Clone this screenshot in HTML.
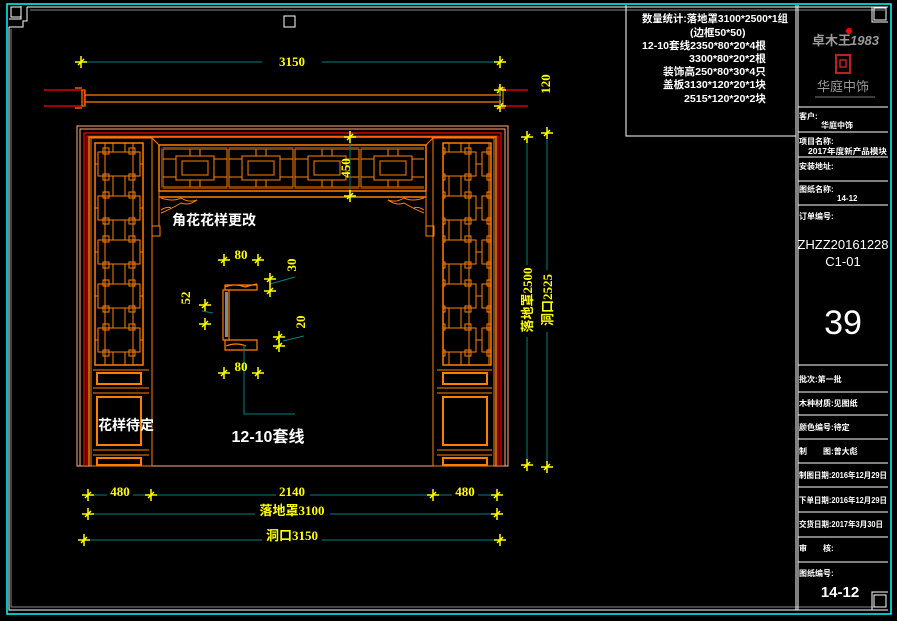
<!DOCTYPE html>
<html><head><meta charset="utf-8"><style>
html,body{margin:0;padding:0;background:#000;}
svg{display:block}
text{font-family:"Liberation Sans","Noto Sans CJK SC",sans-serif;}
.w{fill:#fff;font-weight:bold;font-size:10.5px}
.t{fill:#fff;font-weight:bold;font-size:8px}
.y{fill:#ff0;font-family:"Liberation Serif","Noto Sans CJK SC",serif;font-weight:bold;font-size:13px}
</style></head><body>
<svg width="897" height="621" viewBox="0 0 897 621" xmlns="http://www.w3.org/2000/svg">
<defs>
<g id="tk"><line x1="-6" y1="0" x2="6" y2="0" stroke="#ff0" stroke-width="1.5"/><line x1="0" y1="-6" x2="0" y2="6" stroke="#ff0" stroke-width="1.5"/><line x1="-3" y1="3" x2="3" y2="-3" stroke="#ff0" stroke-width="1.5"/></g>
<pattern id="side" x="95" y="142" width="48" height="44" patternUnits="userSpaceOnUse">
<g fill="none" stroke="#ff7f00" stroke-width="1">
<line x1="10" y1="0" x2="10" y2="44"/><line x1="38" y1="0" x2="38" y2="44"/>
<line x1="18" y1="0" x2="18" y2="10"/><line x1="30" y1="0" x2="30" y2="10"/>
<line x1="18" y1="34" x2="18" y2="44"/><line x1="30" y1="34" x2="30" y2="44"/>
<rect x="3" y="10" width="42" height="24"/><rect x="8" y="6" width="6" height="6"/><rect x="34" y="6" width="6" height="6"/>
<rect x="8" y="32" width="6" height="6"/><rect x="34" y="32" width="6" height="6"/>
<line x1="0" y1="22" x2="3" y2="22"/><line x1="45" y1="22" x2="48" y2="22"/>
</g></pattern>
<pattern id="beam" x="162" y="148" width="66" height="40" patternUnits="userSpaceOnUse">
<g fill="none" stroke="#ff7f00" stroke-width="1">
<rect x="1" y="1" width="64" height="38"/><rect x="14" y="8" width="38" height="24"/>
<rect x="20" y="13" width="26" height="14"/>
<line x1="1" y1="11" x2="14" y2="11"/><line x1="1" y1="29" x2="14" y2="29"/>
<line x1="52" y1="11" x2="65" y2="11"/><line x1="52" y1="29" x2="65" y2="29"/>
<line x1="28" y1="1" x2="28" y2="8"/><line x1="38" y1="1" x2="38" y2="8"/>
<line x1="28" y1="32" x2="28" y2="39"/><line x1="38" y1="32" x2="38" y2="39"/>
</g></pattern>
</defs>
<rect width="897" height="621" fill="#000"/>
<rect x="7" y="4" width="884" height="610" fill="none" stroke="#0ff" stroke-width="1.5"/>
<path d="M27 7 H888 M9 27 V610 H888" fill="none" stroke="#fff" stroke-width="1"/>
<path d="M30 10 H885 M11 29 V607 H885" fill="none" stroke="#888" stroke-width="1"/>
<rect x="11" y="7" width="10" height="10" fill="none" stroke="#fff"/>
<path d="M9 19 H21 V6 M9 27 H23 V21 H27 V7" fill="none" stroke="#fff"/>
<rect x="874" y="8" width="12" height="12" fill="none" stroke="#fff"/>
<path d="M888 22 H872 V7" fill="none" stroke="#fff"/>
<rect x="874" y="595" width="12" height="12" fill="none" stroke="#fff"/>
<path d="M888 592 H872 V610" fill="none" stroke="#fff"/>
<rect x="284" y="16" width="11" height="11" fill="none" stroke="#fff"/>
<path d="M796 5 V610 M798 5 V610 M626 5 V136 H796" fill="none" stroke="#fff"/>
<text class="w" x="642" y="22" textLength="146" lengthAdjust="spacingAndGlyphs">数量统计:落地罩3100*2500*1组</text>
<text class="w" x="690" y="36">(边框50*50)</text>
<text class="w" x="642" y="49" textLength="124" lengthAdjust="spacingAndGlyphs">12-10套线2350*80*20*4根</text>
<text class="w" x="689" y="62" textLength="77" lengthAdjust="spacingAndGlyphs">3300*80*20*2根</text>
<text class="w" x="663" y="75" textLength="103" lengthAdjust="spacingAndGlyphs">装饰高250*80*30*4只</text>
<text class="w" x="663" y="88" textLength="103" lengthAdjust="spacingAndGlyphs">盖板3130*120*20*1块</text>
<text class="w" x="684" y="102" textLength="82" lengthAdjust="spacingAndGlyphs">2515*120*20*2块</text>
<text x="812" y="45" fill="#999" font-weight="bold" font-size="13" font-family="Liberation Sans,Noto Sans CJK SC,sans-serif">卓木王</text>
<circle cx="849" cy="31" r="3" fill="#f00"/>
<text x="850" y="45" fill="#999" font-weight="bold" font-style="italic" font-size="13" font-family="Liberation Serif,serif">1983</text>
<rect x="836" y="55" width="14" height="18" fill="none" stroke="#b22" stroke-width="2"/>
<rect x="840" y="60" width="6" height="7" fill="none" stroke="#b22" stroke-width="1.5"/>
<text x="817" y="91" fill="#999" font-size="13" font-family="Noto Serif CJK SC,serif">华庭中饰</text>
<line x1="815" y1="97" x2="875" y2="97" stroke="#777"/>
<g stroke="#fff" fill="none">
<path d="M798 107 H888 M798 132 H888 M798 157 H888 M798 181 H888 M798 205 H888 M798 365 H888 M798 392 H888 M798 415 H888 M798 439 H888 M798 463 H888 M798 487 H888 M798 512 H888 M798 537 H888 M798 562 H888"/>
</g>
<text class="t" x="799" y="119">客户:</text><text class="t" x="821" y="128">华庭中饰</text>
<text class="t" x="799" y="144">项目名称:</text><text class="t" x="808" y="154" textLength="79" lengthAdjust="spacingAndGlyphs">2017年度新产品模块</text>
<text class="t" x="799" y="169">安装地址:</text>
<text class="t" x="799" y="192">图纸名称:</text><text class="t" x="837" y="201">14-12</text>
<text class="t" x="799" y="219">订单编号:</text>
<text x="843" y="249" fill="#fff" font-size="13" text-anchor="middle" font-family="Liberation Serif,serif">ZHZZ20161228</text>
<text x="843" y="266" fill="#fff" font-size="13" text-anchor="middle" font-family="Liberation Serif,serif">C1-01</text>
<text x="843" y="334" fill="#fff" font-size="34" text-anchor="middle" font-family="Liberation Serif,serif">39</text>
<text class="t" x="799" y="382">批次:第一批</text>
<text class="t" x="799" y="406">木种材质:见图纸</text>
<text class="t" x="799" y="430">颜色编号:待定</text>
<text class="t" x="799" y="454">制　　图:曾大彪</text>
<text class="t" x="799" y="478" textLength="88" lengthAdjust="spacingAndGlyphs">制图日期:2016年12月29日</text>
<text class="t" x="799" y="503" textLength="88" lengthAdjust="spacingAndGlyphs">下单日期:2016年12月29日</text>
<text class="t" x="799" y="527" textLength="84" lengthAdjust="spacingAndGlyphs">交货日期:2017年3月30日</text>
<text class="t" x="799" y="551">审　　核:</text>
<text class="t" x="799" y="576">图纸编号:</text>
<text x="840" y="597" fill="#fff" font-size="15" font-weight="bold" text-anchor="middle" font-family="Liberation Sans,sans-serif">14-12</text>
<line x1="80" y1="62" x2="500" y2="62" stroke="#008080"/>
<use href="#tk" x="81" y="62"/><use href="#tk" x="500" y="62"/>
<rect x="262" y="52" width="60" height="14" fill="#000"/>
<text class="y" x="292" y="66" text-anchor="middle">3150</text>
<g stroke="#f00" stroke-width="1.2"><line x1="44" y1="90" x2="82" y2="90"/><line x1="44" y1="106" x2="82" y2="106"/><line x1="500" y1="90" x2="528" y2="90"/><line x1="500" y1="106" x2="528" y2="106"/></g>
<g stroke="#ff7f00" stroke-width="1.2" fill="none"><line x1="84" y1="95" x2="501" y2="95"/><line x1="84" y1="102" x2="501" y2="102"/>
<rect x="82" y="90" width="3" height="16"/><rect x="500" y="90" width="3" height="16"/>
<path d="M75 88 H82 M75 108 H82 M498 88 H505 M498 108 H505"/></g>
<line x1="500" y1="90" x2="500" y2="106" stroke="#f00"/><line x1="84" y1="90" x2="84" y2="106" stroke="#f00"/>
<use href="#tk" x="500" y="90"/><use href="#tk" x="500" y="106"/>
<line x1="500" y1="90" x2="500" y2="106" stroke="#008080"/>
<text class="y" x="0" y="0" transform="translate(550,84) rotate(-90)" text-anchor="middle">120</text>
<g fill="none" stroke-width="1">
<rect x="77" y="126" width="431" height="340" stroke="#ffb080"/>
<rect x="80" y="129" width="425" height="337" stroke="#ffb080"/>
<path d="M84 466 V133 H501 V466" stroke="#f00" stroke-width="1.2"/>
<path d="M87 466 V136 H498 V466" stroke="#f00"/>
<path d="M89 466 V137 H496 V466" stroke="#ff7f00" stroke-width="1.5"/>
<rect x="91" y="138" width="61" height="328" stroke="#ff7f00"/>
<rect x="95" y="143" width="48" height="222" stroke="#ff7f00" stroke-width="1.5"/>
<rect x="95" y="143" width="48" height="222" fill="url(#side)" stroke="none"/>
<path d="M93 370 H149 M93 388 H149 M93 393 H149 M93 450 H149 M93 455 H149" stroke="#ff7f00"/>
<rect x="97" y="373" width="44" height="11" stroke="#ff7f00" stroke-width="2"/>
<rect x="97" y="397" width="44" height="48" stroke="#ff7f00" stroke-width="2"/>
<rect x="97" y="458" width="44" height="7" stroke="#ff7f00" stroke-width="2"/>
<rect x="433" y="138" width="61" height="328" stroke="#ff7f00"/>
<rect x="443" y="143" width="48" height="222" stroke="#ff7f00" stroke-width="1.5"/>
<rect x="443" y="143" width="48" height="222" fill="url(#side)" stroke="none"/>
<path d="M437 370 H492 M437 388 H492 M437 393 H492 M437 450 H492 M437 455 H492" stroke="#ff7f00"/>
<rect x="443" y="373" width="44" height="11" stroke="#ff7f00" stroke-width="2"/>
<rect x="443" y="397" width="44" height="48" stroke="#ff7f00" stroke-width="2"/>
<rect x="443" y="458" width="44" height="7" stroke="#ff7f00" stroke-width="2"/>
<rect x="159" y="145" width="267" height="46" stroke="#ff7f00" stroke-width="1.5"/>
<rect x="161" y="147" width="263" height="42" fill="url(#beam)" stroke="none"/>
<line x1="159" y1="197" x2="426" y2="197" stroke="#ff7f00" stroke-width="1.5"/>
<path d="M159 145 V226 M426 145 V226 M152 138 L159 145 M433 138 L426 145" stroke="#ff7f00"/>
<rect x="152" y="226" width="8" height="10" stroke="#ff7f00"/>
<rect x="426" y="226" width="8" height="10" stroke="#ff7f00"/>
<path d="M161 198 q12 4 20 0 q8 5 16 2 q-8 6 -16 3 q-10 6 -20 10 M161 210 q6 -4 10 -2" stroke="#ff7f00"/>
<path d="M424 198 q-12 4 -20 0 q-8 5 -16 2 q8 6 16 3 q10 6 20 10 M424 210 q-6 -4 -10 -2" stroke="#ff7f00"/>
</g>
<line x1="350" y1="137" x2="350" y2="197" stroke="#008080"/>
<use href="#tk" x="350" y="137"/><use href="#tk" x="350" y="196"/>
<text class="y" x="0" y="0" transform="translate(350,168) rotate(-90)" text-anchor="middle" font-size="12">450</text>
<text x="172" y="225" fill="#fff" font-weight="bold" font-size="14" font-family="Liberation Sans,Noto Sans CJK SC,sans-serif">角花花样更改</text>
<text x="98" y="430" fill="#fff" font-weight="bold" font-size="14" font-family="Liberation Sans,Noto Sans CJK SC,sans-serif">花样待定</text>
<g fill="none" stroke="#ff7f00" stroke-width="1.2">
<path d="M225 285 H257 V290 H225 Z M225 287 q10 -4 20 0 q6 -2 12 -3"/>
<path d="M225 340 H257 V350 H225 Z M226 346 q10 -4 20 0"/>
<rect x="223" y="290" width="6" height="50"/>
</g>
<rect x="225" y="292" width="3" height="45" fill="#888"/>
<g stroke="#008080"><line x1="270" y1="284" x2="295" y2="277"/><line x1="202" y1="311" x2="213" y2="313"/><line x1="283" y1="341" x2="304" y2="336"/>
<path d="M244 345 V414 H295" fill="none"/></g>
<use href="#tk" x="224" y="260"/><use href="#tk" x="258" y="260"/>
<use href="#tk" x="270" y="279"/><use href="#tk" x="270" y="291"/>
<use href="#tk" x="205" y="305"/><use href="#tk" x="205" y="324"/>
<use href="#tk" x="279" y="337"/><use href="#tk" x="279" y="346"/>
<use href="#tk" x="224" y="373"/><use href="#tk" x="258" y="373"/>
<text class="y" x="241" y="259" text-anchor="middle" font-size="20" font-family="Liberation Sans,sans-serif" font-weight="normal">80</text>
<text class="y" x="241" y="371" text-anchor="middle" font-size="20" font-family="Liberation Sans,sans-serif" font-weight="normal">80</text>
<text class="y" transform="translate(296,265) rotate(-90)" text-anchor="middle" font-size="20" font-family="Liberation Sans,sans-serif" font-weight="normal">30</text>
<text class="y" transform="translate(190,298) rotate(-90)" text-anchor="middle" font-size="20" font-family="Liberation Sans,sans-serif" font-weight="normal">52</text>
<text class="y" transform="translate(305,322) rotate(-90)" text-anchor="middle" font-size="20" font-family="Liberation Sans,sans-serif" font-weight="normal">20</text>
<text x="268" y="442" fill="#fff" font-weight="bold" font-size="16" text-anchor="middle" font-family="Liberation Sans,Noto Sans CJK SC,sans-serif">12-10套线</text>
<g stroke="#008080"><line x1="527" y1="137" x2="527" y2="464"/><line x1="547" y1="132" x2="547" y2="466"/></g>
<use href="#tk" x="527" y="137"/><use href="#tk" x="527" y="465"/><use href="#tk" x="547" y="133"/><use href="#tk" x="547" y="467"/>
<rect x="518" y="265" width="18" height="72" fill="#000"/><rect x="538" y="270" width="18" height="62" fill="#000"/>
<text class="y" transform="translate(527,300) rotate(-90)" text-anchor="middle" dy="5">落地罩2500</text>
<text class="y" transform="translate(547,300) rotate(-90)" text-anchor="middle" dy="5">洞口2525</text>
<g stroke="#008080"><line x1="88" y1="495" x2="497" y2="495"/><line x1="88" y1="514" x2="497" y2="514"/><line x1="84" y1="540" x2="500" y2="540"/></g>
<use href="#tk" x="88" y="495"/><use href="#tk" x="151" y="495"/><use href="#tk" x="433" y="495"/><use href="#tk" x="497" y="495"/>
<use href="#tk" x="88" y="514"/><use href="#tk" x="497" y="514"/>
<use href="#tk" x="84" y="540"/><use href="#tk" x="500" y="540"/>
<rect x="107" y="484" width="26" height="14" fill="#000"/><rect x="276" y="484" width="34" height="14" fill="#000"/><rect x="452" y="484" width="26" height="14" fill="#000"/>
<rect x="255" y="502" width="75" height="15" fill="#000"/><rect x="262" y="527" width="60" height="15" fill="#000"/>
<text class="y" x="120" y="496" text-anchor="middle">480</text>
<text class="y" x="292" y="496" text-anchor="middle">2140</text>
<text class="y" x="465" y="496" text-anchor="middle">480</text>
<text class="y" x="292" y="515" text-anchor="middle">落地罩3100</text>
<text class="y" x="292" y="540" text-anchor="middle">洞口3150</text>
</svg>
</body></html>
